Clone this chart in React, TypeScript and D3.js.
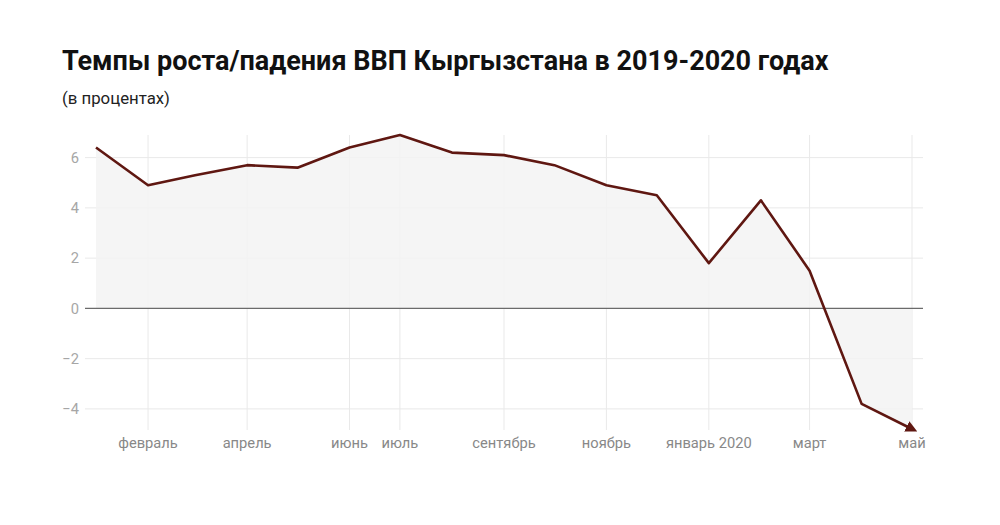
import React from 'react';
import * as d3 from 'd3';

// monthly GDP growth, % (Jan 2019 .. May 2020)
const months = [
  '2019-01', '2019-02', '2019-03', '2019-04', '2019-05', '2019-06', '2019-07', '2019-08',
  '2019-09', '2019-10', '2019-11', '2019-12', '2020-01', '2020-02', '2020-03', '2020-04', '2020-05',
];
const growth = [6.4, 4.9, 5.3, 5.7, 5.6, 6.4, 6.9, 6.2, 6.1, 5.7, 4.9, 4.5, 1.8, 4.3, 1.5, -3.8, -4.8];

const tickMonths = ['2019-02', '2019-04', '2019-06', '2019-07', '2019-09', '2019-11', '2020-01', '2020-03', '2020-05'];
const tickLabels = ['февраль', 'апрель', 'июнь', 'июль', 'сентябрь', 'ноябрь', 'январь 2020', 'март', 'май'];
const yTicks = [-4, -2, 0, 2, 4, 6];

const title = 'Темпы роста/падения ВВП Кыргызстана в 2019-2020 годах';
const subtitle = '(в процентах)';

const parse = d3.timeParse('%Y-%m');

const App: React.FC = () => {
  const width = 1000;
  const height = 525;
  const margin = { top: 135, right: 88, bottom: 96, left: 96 };

  const data = months.map((m, i) => ({ date: parse(m) as Date, value: growth[i] }));

  const x = d3.scaleTime()
    .domain(d3.extent(data, d => d.date) as [Date, Date])
    .range([margin.left, width - margin.right]);

  const y = d3.scaleLinear()
    .domain(d3.extent(growth) as [number, number])
    .range([height - margin.bottom, margin.top]);

  const line = d3.line<{ date: Date, value: number }>()
    .x(d => x(d.date))
    .y(d => y(d.value));

  const area = d3.area<{ date: Date, value: number }>()
    .x(d => x(d.date))
    .y0(y(0))
    .y1(d => y(d.value));

  const gridLeft = margin.left - 11;
  const gridRight = width - margin.right + 11;
  const font = 'Roboto, sans-serif';

  return (
    <svg width={width} height={height} style={{ position: 'absolute', left: 0, top: 0, background: '#fff' }}>
      <defs>
        <marker id="arrow" viewBox="0 0 10 10" refX="5" refY="5" markerWidth="4.5" markerHeight="4.5" orient="auto" markerUnits="strokeWidth">
          <path d="M0,0 L10,5 L0,10 z" fill="#5f1711" />
        </marker>
      </defs>

      <text x={62} y={70} fontFamily={font} fontWeight={700} fontSize={27} fill="#111">{title}</text>
      <text x={62} y={104} fontFamily={font} fontSize={16.8} fill="#222">{subtitle}</text>

      {/* horizontal grid */}
      {yTicks.filter(t => t !== 0).map(t => (
        <line key={'h' + t} x1={gridLeft} x2={gridRight} y1={y(t)} y2={y(t)} stroke="#e9e9e9" strokeWidth={1} />
      ))}
      {/* vertical grid */}
      {tickMonths.map(m => (
        <line key={'v' + m} x1={x(parse(m) as Date)} x2={x(parse(m) as Date)} y1={margin.top} y2={height - margin.bottom + 1}
          stroke="#e9e9e9" strokeWidth={1} />
      ))}

      <path d={area(data) || ''} fill="#f3f3f3" fillOpacity={0.85} />

      <line x1={gridLeft} x2={gridRight} y1={y(0)} y2={y(0)} stroke="#6b6b6b" strokeWidth={1.3} />

      {yTicks.map(t => (
        <text key={'yt' + t} x={79} y={y(t)} dy="0.36em" textAnchor="end" fontFamily={font} fontSize={14.7} fill="#a6a6a6">
          {t < 0 ? '\u2212' + Math.abs(t) : t}
        </text>
      ))}

      {tickMonths.map((m, i) => (
        <text key={'xt' + m} x={x(parse(m) as Date)} y={448} textAnchor="middle" fontFamily={font} fontSize={14.7} fill="#888">
          {tickLabels[i]}
        </text>
      ))}

      <path d={line(data) || ''} fill="none" stroke="#5f1711" strokeWidth={2.6} strokeLinejoin="round" markerEnd="url(#arrow)" />
    </svg>
  );
};

export default App;
